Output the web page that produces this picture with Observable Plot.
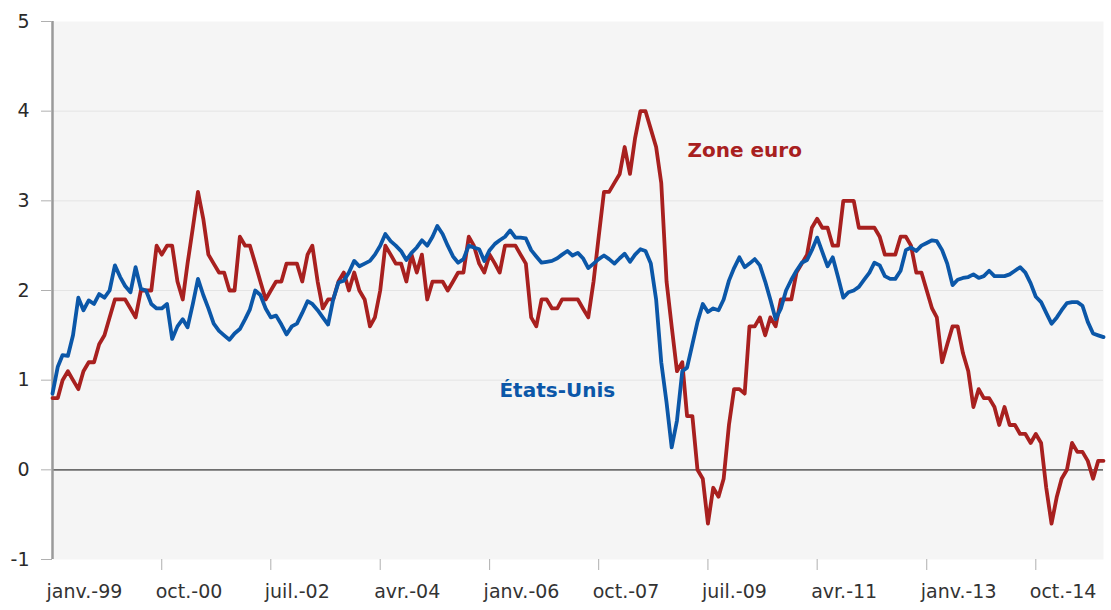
<!DOCTYPE html>
<html>
<head>
<meta charset="utf-8">
<script src="https://cdn.jsdelivr.net/npm/d3@7"></script>
<script src="https://cdn.jsdelivr.net/npm/@observablehq/plot@0.6"></script>
<style>
  html, body { margin: 0; padding: 0; background: #ffffff; }
  #chart { width: 1111px; height: 610px; }
</style>
</head>
<body>
<div id="chart"></div>
<script>
// Monthly series, janv. 1999 – nov. 2015 (203 months)
const startYear = 1999, startMonth = 0, monthCount = 203;

const zoneEuro = [
  0.8, 0.8, 1.0, 1.1, 1.0, 0.9, 1.1, 1.2, 1.2, 1.4, 1.5, 1.7,   // 1999
  1.9, 1.9, 1.9, 1.8, 1.7, 2.0, 2.0, 2.0, 2.5, 2.4, 2.5, 2.5,   // 2000
  2.1, 1.9, 2.3, 2.7, 3.1, 2.8, 2.4, 2.3, 2.2, 2.2, 2.0, 2.0,   // 2001
  2.6, 2.5, 2.5, 2.3, 2.1, 1.9, 2.0, 2.1, 2.1, 2.3, 2.3, 2.3,   // 2002
  2.1, 2.4, 2.5, 2.1, 1.8, 1.9, 1.9, 2.1, 2.2, 2.0, 2.2, 2.0,   // 2003
  1.9, 1.6, 1.7, 2.0, 2.5, 2.4, 2.3, 2.3, 2.1, 2.4, 2.2, 2.4,   // 2004
  1.9, 2.1, 2.1, 2.1, 2.0, 2.1, 2.2, 2.2, 2.6, 2.5, 2.3, 2.2,   // 2005
  2.4, 2.3, 2.2, 2.5, 2.5, 2.5, 2.4, 2.3, 1.7, 1.6, 1.9, 1.9,   // 2006
  1.8, 1.8, 1.9, 1.9, 1.9, 1.9, 1.8, 1.7, 2.1, 2.6, 3.1, 3.1,   // 2007
  3.2, 3.3, 3.6, 3.3, 3.7, 4.0, 4.0, 3.8, 3.6, 3.2, 2.1, 1.6,   // 2008
  1.1, 1.2, 0.6, 0.6, 0.0, -0.1, -0.6, -0.2, -0.3, -0.1, 0.5, 0.9, // 2009
  0.9, 0.85, 1.6, 1.6, 1.7, 1.5, 1.7, 1.6, 1.9, 1.9, 1.9, 2.2,  // 2010
  2.3, 2.4, 2.7, 2.8, 2.7, 2.7, 2.5, 2.5, 3.0, 3.0, 3.0, 2.7,   // 2011
  2.7, 2.7, 2.7, 2.6, 2.4, 2.4, 2.4, 2.6, 2.6, 2.5, 2.2, 2.2,   // 2012
  2.0, 1.8, 1.7, 1.2, 1.4, 1.6, 1.6, 1.3, 1.1, 0.7, 0.9, 0.8,   // 2013
  0.8, 0.7, 0.5, 0.7, 0.5, 0.5, 0.4, 0.4, 0.3, 0.4, 0.3, -0.2,  // 2014
  -0.6, -0.3, -0.1, 0.0, 0.3, 0.2, 0.2, 0.1, -0.1, 0.1, 0.1      // 2015
];

const etatsUnis = [
  0.85, 1.15, 1.28, 1.27, 1.5, 1.92, 1.78, 1.89, 1.85, 1.96, 1.92, 2.0,   // 1999
  2.28, 2.15, 2.05, 1.98, 2.26, 2.02, 2.0, 1.85, 1.8, 1.8, 1.85, 1.46,    // 2000
  1.6, 1.68, 1.59, 1.85, 2.13, 1.95, 1.8, 1.63, 1.55, 1.5, 1.45, 1.52,    // 2001
  1.57, 1.68, 1.79, 2.0, 1.95, 1.8, 1.7, 1.72, 1.62, 1.51, 1.6, 1.63,     // 2002
  1.75, 1.88, 1.85, 1.78, 1.7, 1.62, 1.9, 2.09, 2.11, 2.2, 2.33, 2.27,    // 2003
  2.3, 2.33, 2.4, 2.5, 2.63, 2.55, 2.5, 2.44, 2.34, 2.42, 2.48, 2.56,     // 2004
  2.5, 2.6, 2.72, 2.63, 2.5, 2.38, 2.31, 2.35, 2.5, 2.48, 2.46, 2.33,     // 2005
  2.45, 2.52, 2.56, 2.6, 2.67, 2.59, 2.59, 2.58, 2.45, 2.38, 2.31, 2.32,  // 2006
  2.33, 2.36, 2.4, 2.44, 2.39, 2.42, 2.36, 2.25, 2.3, 2.35, 2.39, 2.35,   // 2007
  2.3, 2.36, 2.41, 2.32, 2.4, 2.46, 2.44, 2.3, 1.9, 1.2, 0.75, 0.25,      // 2008
  0.55, 1.1, 1.14, 1.4, 1.65, 1.85, 1.76, 1.8, 1.78, 1.9, 2.11, 2.25,     // 2009
  2.37, 2.26, 2.3, 2.35, 2.28, 2.1, 1.9, 1.68, 1.8, 2.0, 2.12, 2.22,      // 2010
  2.31, 2.34, 2.45, 2.59, 2.43, 2.27, 2.37, 2.15, 1.92, 1.98, 2.0, 2.04,  // 2011
  2.12, 2.2, 2.31, 2.28, 2.16, 2.13, 2.13, 2.22, 2.45, 2.48, 2.44, 2.5,   // 2012
  2.53, 2.56, 2.55, 2.45, 2.3, 2.06, 2.12, 2.14, 2.15, 2.18, 2.14, 2.16,  // 2013
  2.22, 2.16, 2.16, 2.16, 2.18, 2.22, 2.26, 2.2, 2.08, 1.93, 1.87, 1.75,  // 2014
  1.63, 1.7, 1.78, 1.86, 1.87, 1.87, 1.83, 1.65, 1.52, 1.5, 1.48          // 2015
];

const tickLabels = ["janv.-99", "oct.-00", "juil.-02", "avr.-04", "janv.-06",
                    "oct.-07", "juil.-09", "avr.-11", "janv.-13", "oct.-14"];
const tickStep = 21; // months between labels
const yTicks = [-1, 0, 1, 2, 3, 4, 5];

const seriesNames = ["Zone euro", "États-Unis"];
const labelDates = ["2010-02-01", "2007-02-01"];
const labelValues = [3.56, 0.88];

const colors = { "Zone euro": "#a8201f", "États-Unis": "#0b57a8" };

// ---- build tables ----
const months = d3.range(monthCount).map(i => new Date(Date.UTC(startYear, startMonth + i, 1)));
const euroRows = months.map((d, i) => ({ date: d, value: zoneEuro[i] }));
const usRows = months.map((d, i) => ({ date: d, value: etatsUnis[i] }));
const tickDates = tickLabels.map((_, k) => months[k * tickStep]);
const labelMap = new Map(tickDates.map((d, k) => [+d, tickLabels[k]]));
const labelRows = seriesNames.map((n, i) => ({ name: n, date: new Date(labelDates[i] + "T00:00:00Z"), value: labelValues[i] }));

const font = "'DejaVu Sans', 'Liberation Sans', sans-serif";

const chart = Plot.plot({
  width: 1111,
  height: 610,
  marginLeft: 52,
  marginRight: 8,
  marginTop: 21,
  marginBottom: 51,
  style: { fontFamily: font, background: "#ffffff", overflow: "visible" },
  x: { type: "utc", domain: [months[0], months[monthCount - 1]], axis: null, label: null },
  y: { domain: [-1, 5], axis: null, label: null },
  marks: [
    Plot.frame({ fill: "#f5f5f5", stroke: null }),
    Plot.gridY([1, 2, 3, 4], { stroke: "#e4e4e4", strokeOpacity: 1, strokeWidth: 1 }),
    Plot.ruleY([0], { stroke: "#6e6e6e", strokeWidth: 1.6 }),
    Plot.ruleX([months[0]], { stroke: "#9a9a9a", strokeWidth: 2.5 }),
    Plot.axisY(yTicks, {
      label: null,
      tickSize: 11, tickPadding: 12, stroke: "#b0b0b0",
      fontSize: 19, fill: "#2a2a2a",
      tickFormat: d => String(d)
    }),
    Plot.axisX(tickDates.slice(1), {
      label: null,
      tickSize: 11, stroke: "#b0b0b0", tickFormat: () => ""
    }),
    Plot.axisX(tickDates, {
      label: null,
      tickSize: 0, tickPadding: 25, textAnchor: "start", dx: -6,
      fontSize: 19, fill: "#333333",
      tickFormat: d => labelMap.get(+d)
    }),
    Plot.lineY(euroRows, { x: "date", y: "value", stroke: colors["Zone euro"], strokeWidth: 3.8, strokeLinejoin: "round" }),
    Plot.lineY(usRows, { x: "date", y: "value", stroke: colors["États-Unis"], strokeWidth: 3.8, strokeLinejoin: "round" }),
    Plot.text(labelRows, {
      x: "date", y: "value", text: "name",
      fill: d => colors[d.name],
      fontSize: 20, fontWeight: "bold", textAnchor: "middle"
    })
  ]
});

document.getElementById("chart").appendChild(chart);
</script>
</body>
</html>
